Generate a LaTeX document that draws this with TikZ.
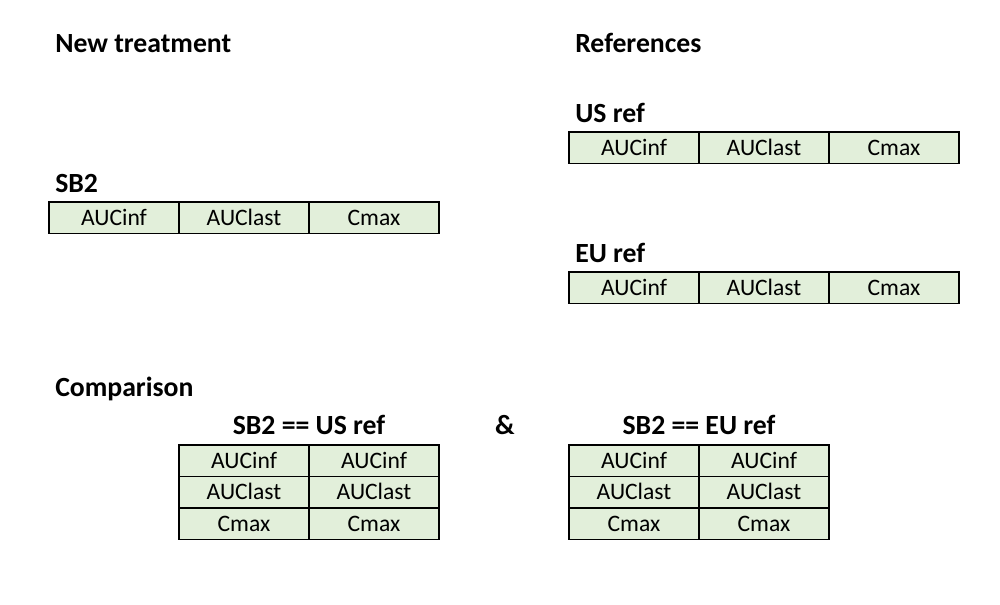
\documentclass[tikz,border=0pt]{standalone}
\usepackage{fontspec}
\setmainfont{Carlito}
\begin{document}
\begin{tikzpicture}[x=0.75pt,y=-0.75pt,
  cell/.style={draw=black, fill=cellgreen, line width=1pt,
    minimum width=97.5pt, minimum height=23.5pt, inner sep=0pt,
    text height=11.6pt, text depth=0pt,
    font=\fontsize{17.7}{20}\selectfont},
  heading/.style={anchor=base west, inner sep=0pt,
    font=\fontsize{20.8}{24}\selectfont\bfseries},
  title/.style={anchor=base, inner sep=0pt,
    font=\fontsize{20.8}{24}\selectfont\bfseries}]
\definecolor{cellgreen}{HTML}{E2EFDA}
\useasboundingbox (0,0) rectangle (1000,604);

% section headings
\node[heading] (newtr) at (55,52) {New treatment};
\node[heading] (refs) at (575,52) {References};
\node[heading] (sblab) at (55,192) {SB2};
\node[heading] (uslab) at (575,122) {US ref};
\node[heading] (eulab) at (575,262) {EU ref};
\node[heading] (comp) at (55,396) {Comparison};

% SB2 row
\node[cell] (sb1) at (114,217.5) {AUCinf};
\node[cell] (sb2) at (244,217.5) {AUClast};
\node[cell] (sb3) at (374,217.5) {Cmax};

% US ref row
\node[cell] (us1) at (634,147.5) {AUCinf};
\node[cell] (us2) at (764,147.5) {AUClast};
\node[cell] (us3) at (894,147.5) {Cmax};

% EU ref row
\node[cell] (eu1) at (634,287.5) {AUCinf};
\node[cell] (eu2) at (764,287.5) {AUClast};
\node[cell] (eu3) at (894,287.5) {Cmax};

% comparison titles
\node[title] (cmpus) at (309,434) {SB2 == US ref};
\node[title] (amp) at (505,434) {\&};
\node[title] (cmpeu) at (699,434) {SB2 == EU ref};

% SB2 vs US ref table
\node[cell] (a11) at (244,460.5) {AUCinf};
\node[cell] (a12) at (374,460.5) {AUCinf};
\node[cell] (a21) at (244,492) {AUClast};
\node[cell] (a22) at (374,492) {AUClast};
\node[cell] (a31) at (244,523.5) {Cmax};
\node[cell] (a32) at (374,523.5) {Cmax};

% SB2 vs EU ref table
\node[cell] (b11) at (634,460.5) {AUCinf};
\node[cell] (b12) at (764,460.5) {AUCinf};
\node[cell] (b21) at (634,492) {AUClast};
\node[cell] (b22) at (764,492) {AUClast};
\node[cell] (b31) at (634,523.5) {Cmax};
\node[cell] (b32) at (764,523.5) {Cmax};
\end{tikzpicture}
\end{document}
